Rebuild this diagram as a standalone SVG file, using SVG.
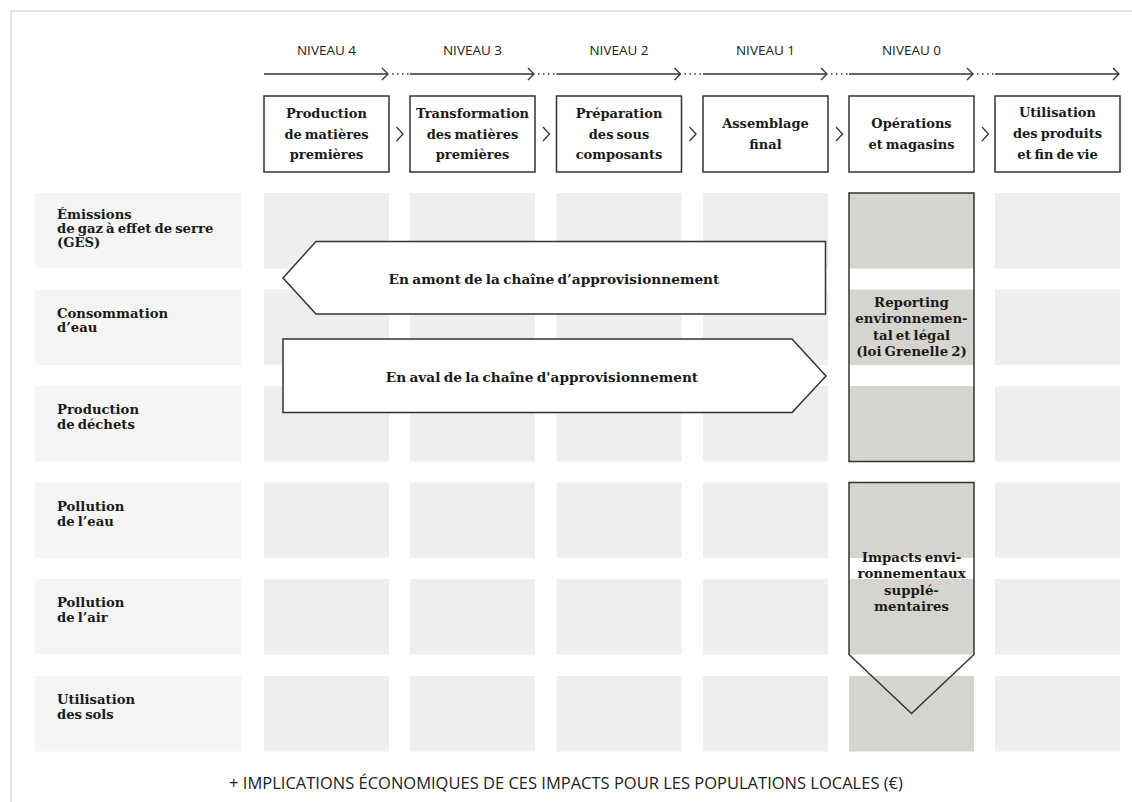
<svg xmlns="http://www.w3.org/2000/svg" width="1132" height="802" viewBox="0 0 1132 802">
<defs>
<style>
.bg{fill:#ffffff}
.frame{fill:none;stroke:#e5e5e0;stroke-width:2}
.lab{fill:#f5f5f3}
.cell{fill:#eeeeec}
.hi{fill:#d6d4ce}
.box{fill:#ffffff;stroke:#333333;stroke-width:1.5}
.outline{fill:none;stroke:#333333;stroke-width:1.5}
.arrowshape{fill:#ffffff;stroke:#333333;stroke-width:1.5}
.line{fill:none;stroke:#333333;stroke-width:1.3}
.dots{fill:none;stroke:#333333;stroke-width:1.3;stroke-dasharray:1.5 3.5}
.chev{fill:none;stroke:#333333;stroke-width:1.3;stroke-linejoin:miter}
.sans{font-family:"Open Sans","Noto Sans","Liberation Sans",sans-serif;fill:#222222}
.niv{font-size:13.5px;text-anchor:middle}
.foot{font-size:16.5px;text-anchor:middle}
.serif{font-family:"DejaVu Serif","Liberation Serif",serif;font-weight:bold;fill:#1a1a1a}
.hdr{font-size:13px;text-anchor:middle;word-spacing:-1.5px}
.rl{font-size:13.2px;word-spacing:-1.5px}
.mid{font-size:13.3px;text-anchor:middle;word-spacing:-1.5px}
.big{font-size:13.7px;text-anchor:middle;word-spacing:-1.5px}
</style>
</defs>
<rect class="bg" x="0" y="0" width="1132" height="802"/>
<path class="frame" d="M11,802 V11 H1132"/>

<g id="connectors">
  <path class="line" d="M264,74 H388"/><path class="chev" d="M382,68 L388,74 L382,80"/><path class="dots" d="M392,74 H409"/>
  <path class="line" d="M410,74 H534"/><path class="chev" d="M528,68 L534,74 L528,80"/><path class="dots" d="M538,74 H555"/>
  <path class="line" d="M556.5,74 H680.5"/><path class="chev" d="M674.5,68 L680.5,74 L674.5,80"/><path class="dots" d="M684.5,74 H701.5"/>
  <path class="line" d="M703,74 H827"/><path class="chev" d="M821,68 L827,74 L821,80"/><path class="dots" d="M831,74 H848"/>
  <path class="line" d="M849,74 H973"/><path class="chev" d="M967,68 L973,74 L967,80"/><path class="dots" d="M977,74 H994"/>
  <path class="line" d="M995,74 H1119"/><path class="chev" d="M1113,68 L1119,74 L1113,80"/>
  <path class="chev" d="M396.5,127 L403,134 L396.5,141"/>
  <path class="chev" d="M543,127 L549.5,134 L543,141"/>
  <path class="chev" d="M689.5,127 L696,134 L689.5,141"/>
  <path class="chev" d="M836,127 L842.5,134 L836,141"/>
  <path class="chev" d="M982,127 L988.5,134 L982,141"/>
</g>

<g id="levels">
  <text class="sans niv" x="326.5" y="55">NIVEAU 4</text>
  <text class="sans niv" x="472.5" y="55">NIVEAU 3</text>
  <text class="sans niv" x="619" y="55">NIVEAU 2</text>
  <text class="sans niv" x="765.5" y="55">NIVEAU 1</text>
  <text class="sans niv" x="911.5" y="55">NIVEAU 0</text>
</g>

<g id="h1"><rect class="box" x="264" y="96" width="125" height="76"/>
  <text class="serif hdr" x="326.5" y="117.5">Production</text>
  <text class="serif hdr" x="326.5" y="138.5">de matières</text>
  <text class="serif hdr" x="326.5" y="159">premières</text></g>
<g id="h2"><rect class="box" x="410" y="96" width="125" height="76"/>
  <text class="serif hdr" x="472.5" y="117.5">Transformation</text>
  <text class="serif hdr" x="472.5" y="138.5">des matières</text>
  <text class="serif hdr" x="472.5" y="159">premières</text></g>
<g id="h3"><rect class="box" x="556.5" y="96" width="125" height="76"/>
  <text class="serif hdr" x="619" y="117.5">Préparation</text>
  <text class="serif hdr" x="619" y="138.5">des sous</text>
  <text class="serif hdr" x="619" y="159">composants</text></g>
<g id="h4"><rect class="box" x="703" y="96" width="125" height="76"/>
  <text class="serif hdr" x="765.5" y="128">Assemblage</text>
  <text class="serif hdr" x="765.5" y="149">final</text></g>
<g id="h5"><rect class="box" x="849" y="96" width="125" height="76"/>
  <text class="serif hdr" x="911.5" y="128">Opérations</text>
  <text class="serif hdr" x="911.5" y="149">et magasins</text></g>
<g id="h6"><rect class="box" x="995" y="96" width="125" height="76"/>
  <text class="serif hdr" x="1057.5" y="117">Utilisation</text>
  <text class="serif hdr" x="1057.5" y="138">des produits</text>
  <text class="serif hdr" x="1057.5" y="158.5">et fin de vie</text></g>

<g id="grid">
  <rect class="cell" x="264" y="193" width="125" height="75.5"/><rect class="cell" x="410" y="193" width="125" height="75.5"/><rect class="cell" x="556.5" y="193" width="125" height="75.5"/><rect class="cell" x="703" y="193" width="125" height="75.5"/><rect class="hi" x="849" y="193" width="125" height="75.5"/><rect class="cell" x="995" y="193" width="125" height="75.5"/>
  <rect class="cell" x="264" y="289.5" width="125" height="75.5"/><rect class="cell" x="410" y="289.5" width="125" height="75.5"/><rect class="cell" x="556.5" y="289.5" width="125" height="75.5"/><rect class="cell" x="703" y="289.5" width="125" height="75.5"/><rect class="hi" x="849" y="289.5" width="125" height="75.5"/><rect class="cell" x="995" y="289.5" width="125" height="75.5"/>
  <rect class="cell" x="264" y="386" width="125" height="75.5"/><rect class="cell" x="410" y="386" width="125" height="75.5"/><rect class="cell" x="556.5" y="386" width="125" height="75.5"/><rect class="cell" x="703" y="386" width="125" height="75.5"/><rect class="hi" x="849" y="386" width="125" height="75.5"/><rect class="cell" x="995" y="386" width="125" height="75.5"/>
  <rect class="cell" x="264" y="482.5" width="125" height="75.5"/><rect class="cell" x="410" y="482.5" width="125" height="75.5"/><rect class="cell" x="556.5" y="482.5" width="125" height="75.5"/><rect class="cell" x="703" y="482.5" width="125" height="75.5"/><rect class="hi" x="849" y="482.5" width="125" height="75.5"/><rect class="cell" x="995" y="482.5" width="125" height="75.5"/>
  <rect class="cell" x="264" y="579" width="125" height="75.5"/><rect class="cell" x="410" y="579" width="125" height="75.5"/><rect class="cell" x="556.5" y="579" width="125" height="75.5"/><rect class="cell" x="703" y="579" width="125" height="75.5"/><rect class="hi" x="849" y="579" width="125" height="75.5"/><rect class="cell" x="995" y="579" width="125" height="75.5"/>
  <rect class="cell" x="264" y="676" width="125" height="75.5"/><rect class="cell" x="410" y="676" width="125" height="75.5"/><rect class="cell" x="556.5" y="676" width="125" height="75.5"/><rect class="cell" x="703" y="676" width="125" height="75.5"/><rect class="hi" x="849" y="676" width="125" height="75.5"/><rect class="cell" x="995" y="676" width="125" height="75.5"/>
</g>

<g id="r1"><rect class="lab" x="35" y="193" width="206" height="75.5"/>
  <text class="serif rl" x="57" y="219">Émissions</text>
  <text class="serif rl" x="57" y="233">de gaz à effet de serre</text>
  <text class="serif rl" x="57" y="247">(GES)</text></g>
<g id="r2"><rect class="lab" x="35" y="289.5" width="206" height="75.5"/>
  <text class="serif rl" x="57" y="317.5">Consommation</text>
  <text class="serif rl" x="57" y="332">d’eau</text></g>
<g id="r3"><rect class="lab" x="35" y="386" width="206" height="75.5"/>
  <text class="serif rl" x="57" y="414">Production</text>
  <text class="serif rl" x="57" y="429">de déchets</text></g>
<g id="r4"><rect class="lab" x="35" y="482.5" width="206" height="75.5"/>
  <text class="serif rl" x="57" y="510.5">Pollution</text>
  <text class="serif rl" x="57" y="525.5">de l’eau</text></g>
<g id="r5"><rect class="lab" x="35" y="579" width="206" height="75.5"/>
  <text class="serif rl" x="57" y="607">Pollution</text>
  <text class="serif rl" x="57" y="622">de l’air</text></g>
<g id="r6"><rect class="lab" x="35" y="676" width="206" height="75.5"/>
  <text class="serif rl" x="57" y="703.5">Utilisation</text>
  <text class="serif rl" x="57" y="718.5">des sols</text></g>

<g id="amont"><path class="arrowshape" d="M283,278 L316,241.5 L825.5,241.5 L825.5,314 L316,314 Z"/>
  <text class="serif big" x="554" y="284">En amont de la chaîne d’approvisionnement</text></g>
<g id="aval"><path class="arrowshape" d="M283,339 L792,339 L826,376 L792,412.5 L283,412.5 Z"/>
  <text class="serif big" x="542" y="382">En aval de la chaîne d'approvisionnement</text></g>

<g id="reporting"><rect class="outline" x="849" y="193" width="125" height="268.5"/>
  <text class="serif mid" x="911.5" y="306.5">Reporting</text>
  <text class="serif mid" x="911.5" y="323">environnemen-</text>
  <text class="serif mid" x="911.5" y="339.5">tal et légal</text>
  <text class="serif mid" x="911.5" y="356">(loi Grenelle 2)</text></g>

<g id="impacts"><path class="outline" d="M849,482.5 L974,482.5 L974,654.5 L911.5,713.5 L849,654.5 Z"/>
  <text class="serif mid" x="911.5" y="561.5">Impacts envi-</text>
  <text class="serif mid" x="911.5" y="578">ronnementaux</text>
  <text class="serif mid" x="911.5" y="594.5">supplé-</text>
  <text class="serif mid" x="911.5" y="611">mentaires</text></g>

<g id="footer">
  <text class="sans foot" x="566" y="789">+ IMPLICATIONS ÉCONOMIQUES DE CES IMPACTS POUR LES POPULATIONS LOCALES (€)</text>
</g>
</svg>
